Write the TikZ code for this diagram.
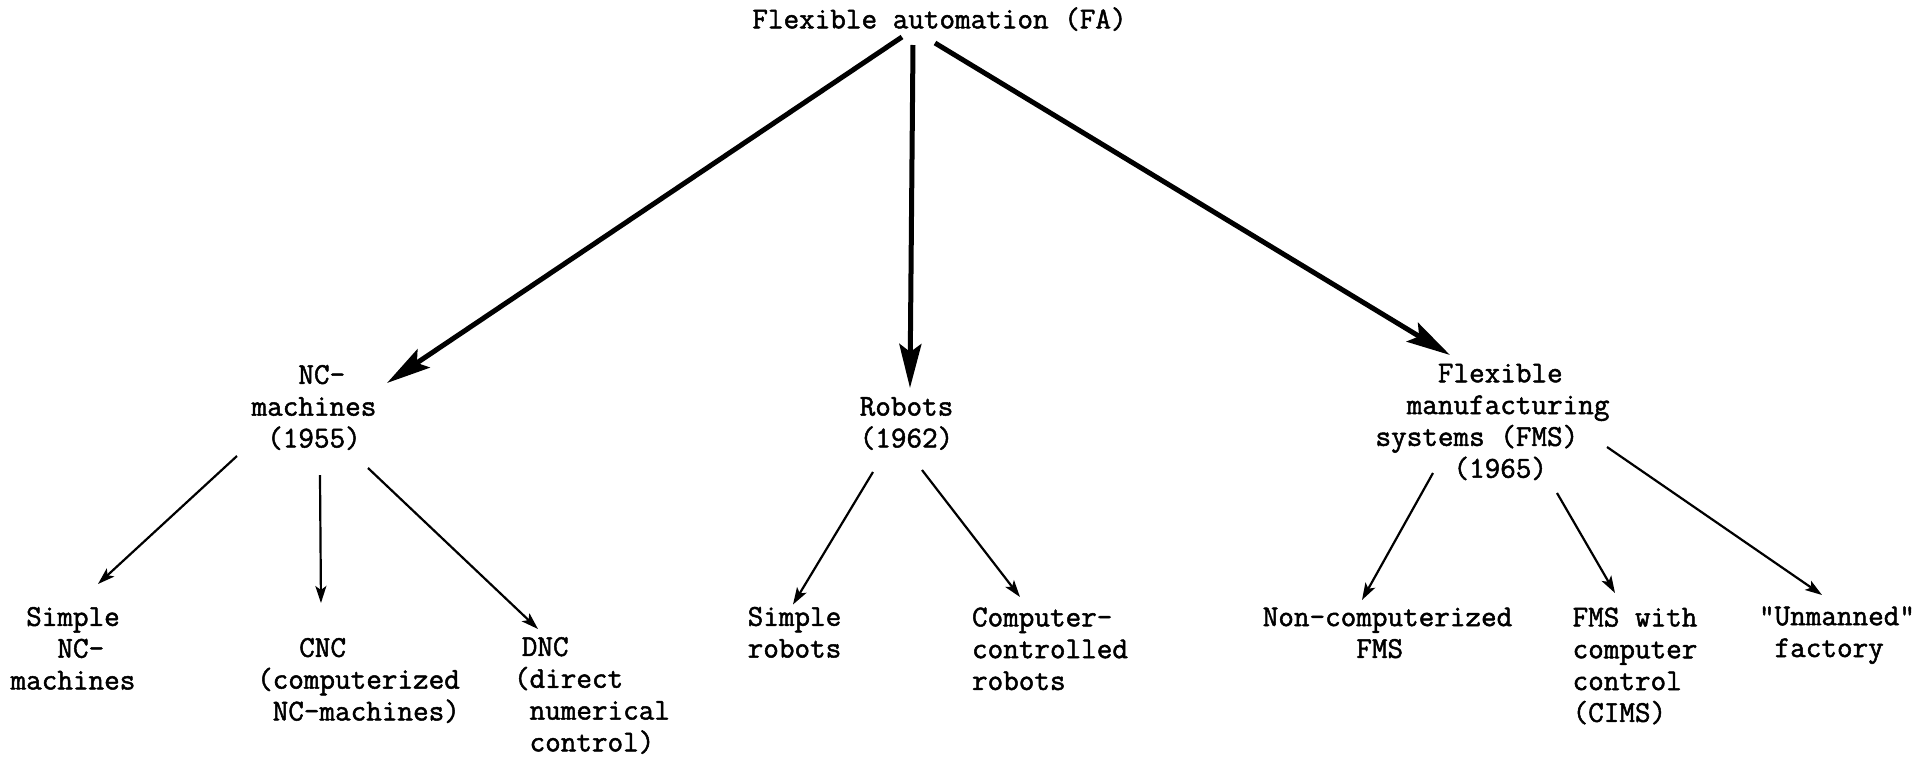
\documentclass[tikz,border=0pt]{standalone}
\usepackage{fontspec}
\usepackage{tikz}
\usetikzlibrary{arrows.meta,calc}
\newfontfamily\typewriter{lmmono12-regular.otf}[FakeBold=1.6]
\newcommand{\cols}[1]{\hspace*{#1\fontcharwd\font`\x}}

\begin{document}
\begin{tikzpicture}[x=0.5pt,y=0.5pt,node distance=200pt,
    main node/.style={font=\typewriter\fontsize{15.14}{15.9}\selectfont,inner sep=0pt,align=left,
      execute at begin node=\strut,execute at end node=\strut},
    big edge/.style={line width=2.5pt,-{Stealth[length=22pt,width=11pt,inset=4pt]}},
    small edge/.style={line width=1.1pt,-{Stealth[length=8.5pt,width=5.5pt,inset=2pt]}}]
    \useasboundingbox (-939.5,22) rectangle (981.5,-744);

    \node[main node] (fa) {Flexible automation (FA)};

    \node[main node] (nc) [below of=fa,xshift=-312.75pt,yshift=5.5pt] {\cols{3}NC-\\machines\\\cols{1}(1955)};
    \node[main node] (robots) [below of=fa,xshift=-16.5pt,yshift=-2.5pt] {Robots\\(1962)};
    \node[main node] (fms) [below of=fa,xshift=276.5pt,yshift=-1.75pt] {\cols{4}Flexible\\\cols{2}manufacturing\\systems (FMS)\\\cols{5}(1965)};

    \begin{scope}[node distance=105pt]
    \node[main node] (simplenc) [below of=nc,xshift=-120.5pt,yshift=-16pt] {\cols{1}Simple\\\cols{3}NC-\\machines};
    \node[main node] (cnc) [below of=nc,xshift=22.25pt,yshift=-31.5pt] {\cols{2.7}CNC\\(computerized\\\cols{1}NC-machines)};
    \node[main node] (dnc) [below of=nc,xshift=139pt,yshift=-39pt] {\cols{0.5}DNC\\(direct\\\cols{1}numerical\\\cols{1}control)};

    \node[main node] (simplerobots) [below of=robots,xshift=-56pt] {Simple\\robots};
    \node[main node] (comprobots) [below of=robots,xshift=71.75pt,yshift=-8.25pt] {Computer-\\controlled\\robots};

    \node[main node] (noncomp) [below of=fms,xshift=-52.5pt,yshift=-1pt] {Non-computerized\\\cols{6}FMS};
    \node[main node] (fmswith) [below of=fms,xshift=71.25pt,yshift=-17pt] {FMS with\\computer\\control\\(CIMS)};
    \node[main node] (unmanned) [below of=fms,xshift=172.25pt,yshift=-0.5pt] {"Unmanned"\\\cols{1}factory};
    \end{scope}

    \path[big edge]
    ($(fa)+(-37.5,-15)$) edge ($(nc)+(73,28)$)
    ($(fa)+(-26.5,-23)$) edge ($(robots)+(3.5,39)$)
    ($(fa)+(-4.5,-21)$) edge ($(fms)+(-42.5,70.5)$);

    \path[small edge]
    ($(nc)+(-77,-45)$) edge ($(simplenc)+(25,69)$)
    ($(nc)+(6,-64)$) edge ($(cnc)+(-37.5,81)$)
    ($(nc)+(54,-57)$) edge ($(dnc)+(-54,70)$)

    ($(robots)+(-33.5,-45)$) edge ($(simplerobots)+(-1.5,32.5)$)
    ($(robots)+(15.5,-43)$) edge ($(comprobots)+(-30,56.5)$)

    ($(fms)+(-59.5,-47.5)$) edge ($(noncomp)+(-25.5,37.5)$)
    ($(fms)+(64.5,-67.5)$) edge ($(fmswith)+(-20,76.5)$)
    ($(fms)+(114.5,-21.5)$) edge ($(unmanned)+(-15,41.5)$);
  \end{tikzpicture}
\end{document}
